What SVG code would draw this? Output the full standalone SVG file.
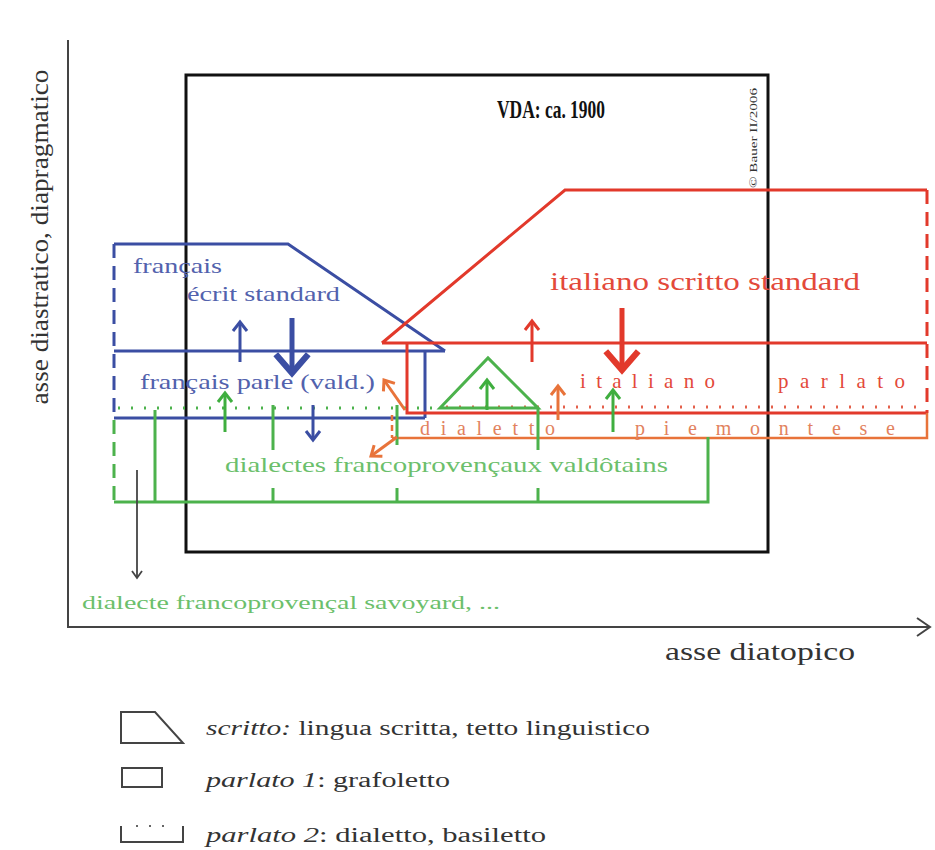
<svg xmlns="http://www.w3.org/2000/svg" width="935" height="850" viewBox="0 0 935 850">
<style>
text{font-family:"Liberation Serif","Times New Roman",serif}
.b{stroke:#3b4ea3;fill:none;stroke-width:3}
.r{stroke:#e2392b;fill:none;stroke-width:3}
.o{stroke:#e8733a;fill:none;stroke-width:2.5}
.g{stroke:#4cb24c;fill:none;stroke-width:3}
.dash{stroke-dasharray:14 8}
.tb{fill:#5262ad}
.tr{fill:#e3493a}
.to{fill:#e2825e}
.tg{fill:#6cbf6c}
.tk{fill:#333}
</style>
<defs>
<marker id="ab" markerUnits="userSpaceOnUse" markerWidth="20" markerHeight="20" refX="0" refY="0" viewBox="-12 -10 14 20" orient="auto"><path d="M-9,-7 L0,0 L-9,7" fill="none" stroke="#3b4ea3" stroke-width="3"/></marker>
<marker id="abB" markerUnits="userSpaceOnUse" markerWidth="30" markerHeight="40" refX="0" refY="0" viewBox="-18 -16 20 32" orient="auto"><path d="M-15,-13 L0,0 L-15,13" fill="none" stroke="#3b4ea3" stroke-width="5"/></marker>
<marker id="ar" markerUnits="userSpaceOnUse" markerWidth="20" markerHeight="20" refX="0" refY="0" viewBox="-12 -10 14 20" orient="auto"><path d="M-9,-7 L0,0 L-9,7" fill="none" stroke="#e2392b" stroke-width="3"/></marker>
<marker id="arB" markerUnits="userSpaceOnUse" markerWidth="30" markerHeight="40" refX="0" refY="0" viewBox="-18 -16 20 32" orient="auto"><path d="M-15,-13 L0,0 L-15,13" fill="none" stroke="#e2392b" stroke-width="5"/></marker>
<marker id="ao" markerUnits="userSpaceOnUse" markerWidth="20" markerHeight="20" refX="0" refY="0" viewBox="-12 -10 14 20" orient="auto"><path d="M-9,-7 L0,0 L-9,7" fill="none" stroke="#e8733a" stroke-width="3"/></marker>
<marker id="ag" markerUnits="userSpaceOnUse" markerWidth="20" markerHeight="20" refX="0" refY="0" viewBox="-12 -10 14 20" orient="auto"><path d="M-9,-7 L0,0 L-9,7" fill="none" stroke="#3fae3f" stroke-width="3"/></marker>
<marker id="ak" markerUnits="userSpaceOnUse" markerWidth="16" markerHeight="16" refX="0" refY="0" viewBox="-10 -8 12 16" orient="auto"><path d="M-7,-5 L0,0 L-7,5" fill="none" stroke="#444" stroke-width="1.8"/></marker>
</defs>
<rect width="935" height="850" fill="#fff"/>

<g id="axes">
<path d="M68,40 V627 H930" fill="none" stroke="#444" stroke-width="2"/>
<path d="M917,618 L930,627 L917,636" fill="none" stroke="#444" stroke-width="2"/>
<text x="48" y="237" transform="rotate(-90 48 237)" text-anchor="middle" font-size="25" textLength="335" lengthAdjust="spacingAndGlyphs" class="tk">asse diastratico, diapragmatico</text>
<text x="665" y="660" font-size="25" textLength="190" lengthAdjust="spacingAndGlyphs" class="tk">asse diatopico</text>
</g>

<g id="vda-box">
<rect x="186" y="75" width="582" height="477" fill="none" stroke="#111" stroke-width="3"/>
<text x="497" y="118" font-size="25" font-weight="bold" textLength="108" lengthAdjust="spacingAndGlyphs" fill="#111">VDA: ca. 1900</text>
<text x="757" y="188" transform="rotate(-90 757 188)" font-size="11" textLength="100" lengthAdjust="spacingAndGlyphs" fill="#333">© Bauer II/2006</text>
</g>

<g id="francais-ecrit">
<path class="b" d="M114,244 H288 L445,351"/>
<path class="b dash" d="M114,244 V417"/>
<text x="133" y="273" font-size="21" textLength="89" lengthAdjust="spacingAndGlyphs" class="tb">français</text>
<text x="187" y="301" font-size="21" textLength="153" lengthAdjust="spacingAndGlyphs" class="tb">écrit standard</text>
</g>

<g id="francais-parle">
<path class="b" d="M114,351 H445 M425,351 V418 M114,418 H425"/>
<text x="140" y="389" font-size="21" textLength="235" lengthAdjust="spacingAndGlyphs" class="tb">français parle (vald.)</text>
</g>

<g id="italiano-scritto">
<path class="r" d="M382,343 L565,190 H927 M382,343 H927"/>
<path class="r dash" d="M927,190 V413"/>
<text x="550" y="290" font-size="25" textLength="310" lengthAdjust="spacingAndGlyphs" class="tr">italiano scritto standard</text>
</g>

<g id="italiano-parlato">
<path class="r" d="M407,343 V413 H927" stroke-width="3.5"/>
<text x="580" y="388" font-size="21" textLength="135" lengthAdjust="spacing" class="tr">italiano</text>
<text x="778" y="388" font-size="21" textLength="127" lengthAdjust="spacing" class="tr">parlato</text>
</g>

<g id="dialetto-piemontese">
<path class="o" d="M392,415 V438" stroke-dasharray="6 4"/>
<path class="o" d="M392,438 H927 V413"/>
<text x="420" y="435" font-size="20" textLength="135" lengthAdjust="spacing" class="to">dialetto</text>
<text x="635" y="435" font-size="20" textLength="260" lengthAdjust="spacing" class="to">piemontese</text>
</g>

<g id="dotted-line">
<path d="M118,408 H440" stroke="#4cb24c" stroke-width="3" stroke-dasharray="2 11" fill="none"/>
<path d="M446,407 H925" stroke="#e4604a" stroke-width="3" stroke-dasharray="2 11" fill="none"/>
</g>

<g id="dialecte-vald">
<path class="g" d="M440,408 L488,358 L538,408 Z"/>
<path class="g dash" d="M114,420 V502"/>
<path class="g" d="M114,502 H708 V437 M155,410 V502 M273,405 V450 M273,488 V502 M397,405 V445 M397,488 V502 M538,408 V450 M538,488 V502"/>
<text x="225" y="472" font-size="21" textLength="443" lengthAdjust="spacingAndGlyphs" class="tg">dialectes francoprovençaux valdôtains</text>
</g>

<g id="dialecte-savoyard">
<text x="82" y="609" font-size="19" textLength="418" lengthAdjust="spacingAndGlyphs" class="tg">dialecte francoprovençal savoyard, ...</text>
</g>

<g id="connectors">
<path d="M240,362 V322" stroke="#3b4ea3" stroke-width="3" marker-end="url(#ab)"/>
<path d="M292,318 V373" stroke="#3b4ea3" stroke-width="5" marker-end="url(#abB)"/>
<path d="M313,405 V440" stroke="#3b4ea3" stroke-width="3" marker-end="url(#ab)"/>
<path d="M532,362 V321" stroke="#e2392b" stroke-width="3" marker-end="url(#ar)"/>
<path d="M622,308 V370" stroke="#e2392b" stroke-width="5" marker-end="url(#arB)"/>
<path d="M405,410 L384,380" stroke="#e8733a" stroke-width="3" marker-end="url(#ao)"/>
<path d="M397,437 L371,456" stroke="#e8733a" stroke-width="3" marker-end="url(#ao)"/>
<path d="M558,420 V386" stroke="#e8733a" stroke-width="3" marker-end="url(#ao)"/>
<path d="M225,432 V393" stroke="#3fae3f" stroke-width="3" marker-end="url(#ag)"/>
<path d="M487,410 V380" stroke="#3fae3f" stroke-width="3" marker-end="url(#ag)"/>
<path d="M613,432 V390" stroke="#3fae3f" stroke-width="3" marker-end="url(#ag)"/>
<path d="M137,470 V578" stroke="#444" stroke-width="1.8" marker-end="url(#ak)"/>
</g>

<g id="legend">
<path d="M121,712 H155 L183,743 H121 Z" fill="none" stroke="#444" stroke-width="2"/>
<text x="206" y="735" font-size="20" class="tk" textLength="444" lengthAdjust="spacingAndGlyphs"><tspan font-style="italic">scritto:</tspan> lingua scritta, tetto linguistico</text>
<rect x="122" y="768" width="40" height="19" fill="none" stroke="#444" stroke-width="2"/>
<text x="206" y="787" font-size="20" class="tk" textLength="244" lengthAdjust="spacingAndGlyphs"><tspan font-style="italic">parlato 1</tspan>: grafoletto</text>
<path d="M121,826 V842 H183 V826" fill="none" stroke="#444" stroke-width="2"/>
<path d="M136,826 H175" stroke="#666" stroke-width="2" stroke-dasharray="2 11" fill="none"/>
<text x="206" y="842" font-size="20" class="tk" textLength="340" lengthAdjust="spacingAndGlyphs"><tspan font-style="italic">parlato 2</tspan>: dialetto, basiletto</text>
</g>
</svg>
